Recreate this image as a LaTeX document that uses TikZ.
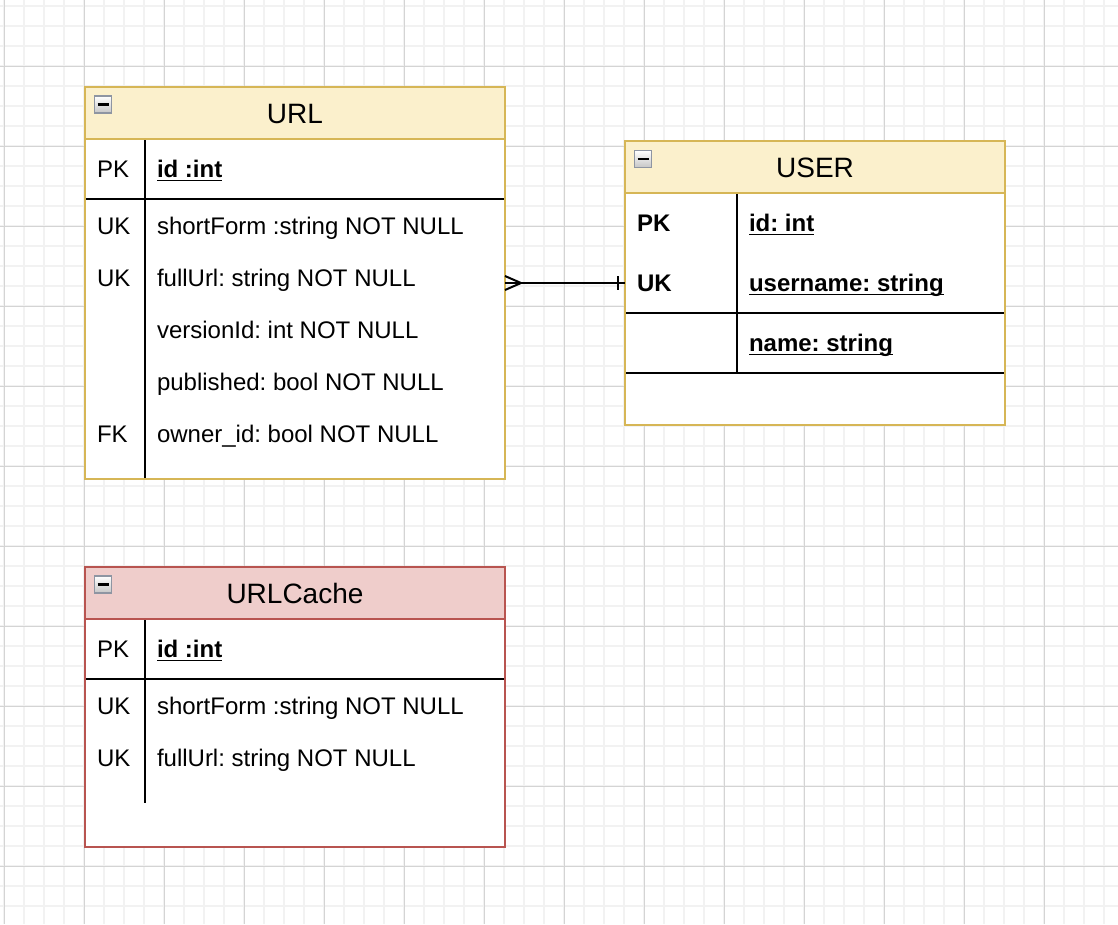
\documentclass[tikz,border=0pt]{standalone}
\usepackage{fontspec}
\setmainfont{Liberation Sans}
\frenchspacing
\definecolor{yfill}{HTML}{FBF0CC}
\definecolor{ystroke}{HTML}{D6B656}
\definecolor{rfill}{HTML}{EFCDCB}
\definecolor{rstroke}{HTML}{B85450}
\definecolor{gminor}{HTML}{F2F2F2}
\definecolor{gmajor}{HTML}{D4D4D4}
\definecolor{iconb}{HTML}{8E95A2}
\begin{document}
\frenchspacing
\begin{tikzpicture}[x=1pt,y=-1pt,
  minorg/.style={draw=gminor,line width=1.6pt},
  majorg/.style={draw=gmajor,line width=1pt},
  tablebox/.style={fill=white,line width=2pt,inner sep=0,outer sep=0,anchor=north west},
  hdr/.style={line width=2pt,inner sep=0,outer sep=0,anchor=north west,minimum height=52},
  sepline/.style={draw=black,line width=2pt},
  txt/.style={inner sep=0,outer sep=0,anchor=base west,font=\fontsize{24}{28}\selectfont\frenchspacing},
  btxt/.style={txt,font=\fontsize{24}{28}\selectfont\bfseries\frenchspacing},
  ttl/.style={inner sep=0,outer sep=0,anchor=base,font=\fontsize{28}{32}\selectfont},
  ul/.style={draw=black,line width=1.8pt},
  icon/.style={draw=iconb,line width=1.5pt,top color=white,bottom color=gray!45,minimum size=17,inner sep=0,outer sep=0},
  conn/.style={draw=black,line width=2pt}
]
\useasboundingbox (0,0) rectangle (1118,924);
\fill[white] (0,0) rectangle (1118,924);
% grid
\foreach \x in {4,24,...,1118} \draw[minorg] (\x,0) -- (\x,924);
\foreach \y in {6,26,...,924} \draw[minorg] (0,\y) -- (1118,\y);
\foreach \x in {4,84,...,1118} \draw[majorg] (\x,0) -- (\x,924);
\foreach \y in {66,146,...,924} \draw[majorg] (0,\y) -- (1118,\y);

% ================= URL table
\node[tablebox,draw=ystroke,minimum width=420,minimum height=392] (url) at (85,87) {};
\node[hdr,fill=yfill,draw=ystroke,minimum width=420] (urlh) at (85,87) {};
\node[ttl] (urlt) at (295,123) {URL};
\node[icon] (urli) at (103,104.5) {};
\draw[line width=2.2pt] ([xshift=-5.5pt]urli.center) -- ([xshift=5.5pt]urli.center);
\draw[sepline] (86,199) -- (504,199);
\draw[sepline] (145,140) -- (145,478);
\node[txt] (url1k) at (97,177.5) {PK};
\node[btxt] (url1) at (157,177.5) {id :int};
\draw[ul] ([yshift=-3pt]url1.base west) -- ([yshift=-3pt]url1.base east);
\node[txt] (url2k) at (97,234.5) {UK};
\node[txt] (url2) at (157,234.5) {shortForm :string NOT NULL};
\node[txt] (url3k) at (97,286.5) {UK};
\node[txt] (url3) at (157,286.5) {fullUrl: string NOT NULL};
\node[txt] (url4) at (157,338.5) {versionId: int NOT NULL};
\node[txt] (url5) at (157,390.5) {published: bool NOT NULL};
\node[txt] (url6k) at (97,442.5) {FK};
\node[txt] (url6) at (157,442.5) {owner\_id: bool NOT NULL};

% ================= USER table
\node[tablebox,draw=ystroke,minimum width=380,minimum height=284] (user) at (625,141) {};
\node[hdr,fill=yfill,draw=ystroke,minimum width=380] (userh) at (625,141) {};
\node[ttl] (usert) at (815,177) {USER};
\node[icon] (useri) at (643,159) {};
\draw[line width=2.2pt] ([xshift=-5.5pt]useri.center) -- ([xshift=5.5pt]useri.center);
\draw[sepline] (626,313) -- (1004,313);
\draw[sepline] (626,373) -- (1004,373);
\draw[sepline] (737,194) -- (737,373);
\node[btxt] (user1k) at (637,231.5) {PK};
\node[btxt] (user1) at (749,231.5) {id: int};
\draw[ul] ([yshift=-3pt]user1.base west) -- ([yshift=-3pt]user1.base east);
\node[btxt] (user2k) at (637,291.5) {UK};
\node[btxt] (user2) at (749,291.5) {username: string};
\draw[ul] ([yshift=-3pt]user2.base west) -- ([yshift=-3pt]user2.base east);
\node[btxt] (user3) at (749,351.5) {name: string};
\draw[ul] ([yshift=-3pt]user3.base west) -- ([yshift=-3pt]user3.base east);

% ================= URLCache table
\node[tablebox,draw=rstroke,minimum width=420,minimum height=280] (cache) at (85,567) {};
\node[hdr,fill=rfill,draw=rstroke,minimum width=420] (cacheh) at (85,567) {};
\node[ttl] (cachet) at (295,603) {URLCache};
\node[icon] (cachei) at (103,584.5) {};
\draw[line width=2.2pt] ([xshift=-5.5pt]cachei.center) -- ([xshift=5.5pt]cachei.center);
\draw[sepline] (86,679) -- (504,679);
\draw[sepline] (145,620) -- (145,803);
\node[txt] (cache1k) at (97,657.5) {PK};
\node[btxt] (cache1) at (157,657.5) {id :int};
\draw[ul] ([yshift=-3pt]cache1.base west) -- ([yshift=-3pt]cache1.base east);
\node[txt] (cache2k) at (97,714.5) {UK};
\node[txt] (cache2) at (157,714.5) {shortForm :string NOT NULL};
\node[txt] (cache3k) at (97,766.5) {UK};
\node[txt] (cache3) at (157,766.5) {fullUrl: string NOT NULL};

% ================= connector
\coordinate (ca) at (url.east |- 0,283);
\coordinate (cb) at (user.west |- 0,283);
\draw[conn] (ca) -- (cb);
\draw[conn] ([yshift=7pt]ca) -- ([xshift=16pt]ca) -- ([yshift=-7pt]ca);
\draw[conn] ([xshift=-7pt,yshift=7pt]cb) -- ([xshift=-7pt,yshift=-7pt]cb);
\end{tikzpicture}
\end{document}
